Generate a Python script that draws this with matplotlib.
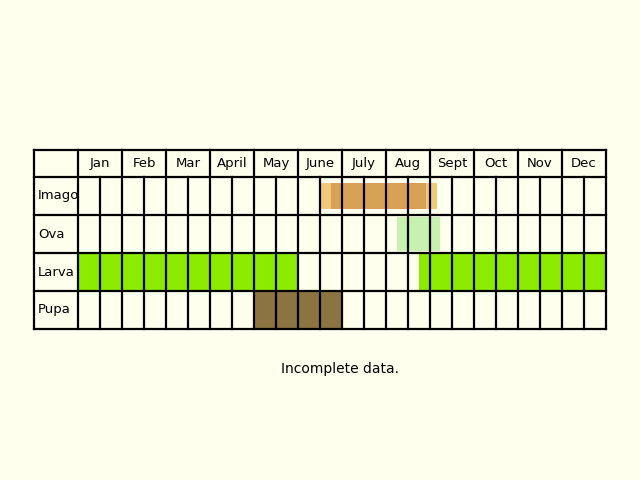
import matplotlib
matplotlib.use("Agg")
import matplotlib.pyplot as plt
from matplotlib.patches import Rectangle

months = ["Jan","Feb","Mar","Apr" if False else "April","May","June","July","Aug","Sept","Oct","Nov","Dec"]
stages = ["Imago","Ova","Larva","Pupa"]
# spans in half-month columns (start, end, color, vertical inset)
imago_light = [(11.0, 16.3)]
imago_dark = [(11.5, 15.8)]
ova_spans = [(14.5, 16.45)]
larva_spans = [(0, 10), (15.5, 24)]
pupa_spans = [(8, 12)]
note = "Incomplete data."

bg = "#FFFFEE"
fig = plt.figure(figsize=(6.4, 4.8), dpi=100, facecolor=bg)
ax = fig.add_axes([0, 0, 1, 1])
ax.set_xlim(0, 640); ax.set_ylim(480, 0); ax.axis("off")

x0, lab_w, cw = 34, 44, 22
y0, hh, rh = 150, 27, 38
gx = x0 + lab_w
def cx(c): return gx + c * cw
def ry(r): return y0 + hh + r * rh

def span(row, spans, color, inset=0):
    for a, b in spans:
        ax.add_patch(Rectangle((cx(a), ry(row) + inset), (b - a) * cw, rh - 2 * inset,
                               facecolor=color, edgecolor="none", zorder=1))

span(0, imago_light, "#F2C87A", 6)
span(0, imago_dark, "#D8A256", 6)
span(1, ova_spans, "#C8F0B0", 2)
span(2, larva_spans, "#8CEC00")
span(3, pupa_spans, "#8C7442")

lw = 1.6
bottom = ry(4)
right = cx(24)
for y in [y0, y0 + hh] + [ry(r) for r in range(1, 5)]:
    ax.plot([x0, right], [y, y], color="black", lw=lw, zorder=3)
ax.plot([x0, x0], [y0, bottom], color="black", lw=lw, zorder=3)
for c in range(25):
    top = y0 if c % 2 == 0 else y0 + hh
    ax.plot([cx(c), cx(c)], [top, bottom], color="black", lw=lw, zorder=3)

for i, m in enumerate(months):
    ax.text(cx(2 * i + 1), y0 + hh / 2, m, ha="center", va="center", fontsize=9.5)
for r, s in enumerate(stages):
    ax.text(x0 + 4, ry(r) + rh / 2, s, ha="left", va="center", fontsize=9.5)

ax.text(340, 369, note, ha="center", va="center", fontsize=10)
fig.savefig("out.png", dpi=100, facecolor=bg)
